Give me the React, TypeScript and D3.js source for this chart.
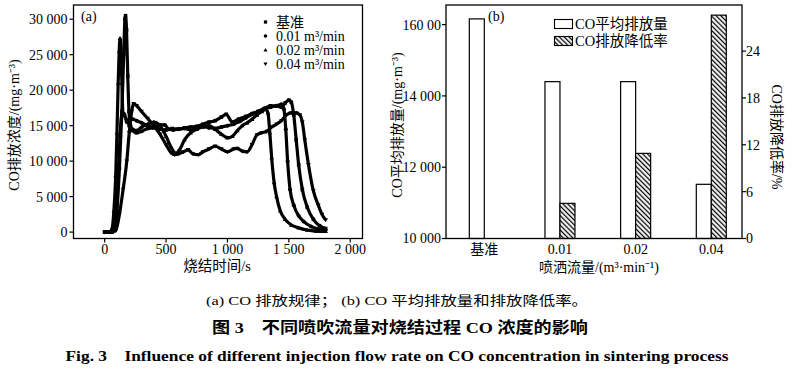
import React from "react";
import * as d3 from "d3";

// ---------- DATA ----------
const legendLabels = ["基准", "0.01 m³/min", "0.02 m³/min", "0.04 m³/min"];
const xTicksA = [0, 500, 1000, 1500, 2000];
const xTickLabelsA = ["0", "500", "1 000", "1 500", "2 000"];
const yTicksA = [0, 5000, 10000, 15000, 20000, 25000, 30000];
const yTickLabelsA = ["0", "5 000", "10 000", "15 000", "20 000", "25 000", "30 000"];

// 基准 (square)
const seriesBase: [number, number][] = [
  [0, 0], [60, 0], [80, 300], [100, 3000], [120, 9000], [140, 17000], [155, 25000], [165, 30000], [170, 30500],
  [178, 28500], [188, 22000], [198, 17000], [210, 15000], [230, 14300], [260, 14000], [300, 14200], [350, 14600],
  [400, 14700], [450, 14500], [500, 14400], [550, 14600], [600, 14500], [650, 14700], [700, 14800], [750, 14900],
  [800, 15200], [850, 15500], [900, 15700], [950, 16200], [990, 16600], [1040, 15500], [1090, 15900], [1150, 16300],
  [1200, 16700], [1250, 17000], [1300, 17400], [1350, 17800], [1400, 17800], [1440, 17600], [1470, 18200],
  [1500, 18600], [1520, 18300], [1540, 16500], [1560, 13000], [1580, 9500], [1610, 6000], [1650, 3500],
  [1700, 1800], [1750, 900], [1800, 500],
];
// 0.01 (circle)
const series001: [number, number][] = [
  [0, 0], [60, 0], [80, 500], [95, 3000], [110, 8000], [125, 13500], [140, 16700], [160, 16600], [180, 15500],
  [200, 15800], [230, 15900], [260, 15700], [300, 15400], [350, 15000], [400, 14800], [450, 15100], [490, 15100],
  [520, 14500], [560, 14400], [600, 14500], [650, 14600], [700, 14400], [750, 14600], [800, 14900], [850, 14700],
  [900, 14600], [950, 14800], [1000, 15000], [1050, 15200], [1100, 15600], [1150, 16100], [1200, 16600],
  [1250, 17000], [1300, 17400], [1350, 17600], [1400, 17800], [1440, 18000], [1460, 17300], [1475, 14500],
  [1490, 10000], [1510, 6000], [1540, 3800], [1580, 2300], [1620, 1500], [1680, 800], [1750, 400], [1800, 300],
];
// 0.02 (triangle)
const series002: [number, number][] = [
  [0, 0], [40, 0], [60, 500], [75, 3000], [90, 8000], [100, 14000], [110, 21000], [118, 25500], [125, 27300],
  [132, 26000], [140, 21000], [148, 17000], [160, 16500], [180, 15800], [200, 15000], [230, 14500], [260, 14300],
  [300, 14800], [350, 15200], [400, 15500], [450, 15000], [500, 13500], [540, 12000], [580, 11100], [610, 11600],
  [650, 13000], [700, 14000], [750, 14500], [800, 14800], [850, 15000], [900, 14500], [950, 13800], [1000, 13300],
  [1040, 13500], [1080, 14300], [1120, 15000], [1160, 15400], [1200, 15900], [1240, 16500], [1280, 17000],
  [1310, 17300], [1330, 16800], [1345, 14000], [1360, 10500], [1380, 7000], [1400, 5000], [1430, 3000],
  [1470, 1800], [1520, 1000], [1580, 600], [1650, 300], [1720, 150], [1800, 100],
];
// 0.04 (inverted triangle)
const series004: [number, number][] = [
  [0, 0], [50, 0], [90, 200], [120, 2500], [150, 6000], [180, 10000], [200, 14000], [220, 17000], [235, 18100],
  [260, 17800], [300, 17000], [350, 16000], [400, 15000], [450, 13800], [500, 12300], [540, 11200], [570, 10900],
  [600, 11000], [640, 11300], [680, 11600], [720, 11000], [760, 10900], [800, 11300], [850, 11700], [900, 12100],
  [950, 11700], [1000, 11300], [1050, 11700], [1080, 11800], [1120, 11400], [1160, 11300], [1200, 12300],
  [1240, 13700], [1280, 14000], [1320, 14200], [1360, 14800], [1400, 15200], [1440, 15700], [1480, 16500],
  [1520, 16800], [1560, 16800], [1590, 16500], [1610, 15500], [1630, 13000], [1660, 9500], [1700, 5800],
  [1740, 3800], [1770, 2500], [1800, 1700],
];

const categoriesB = ["基准", "0.01", "0.02", "0.04"];
const avgEmission = [16160, 14400, 14400, 11520];
const reductionRate = [0, 4.5, 10.9, 28.6];
const yTicksBL = [10000, 12000, 14000, 16000];
const yTickLabelsBL = ["10 000", "12 000", "14 000", "160 00"];
const yTicksBR = [0, 6, 12, 18, 24];
const legendLabelsB = ["CO平均排放量", "CO排放降低率"];

const FONT = "'Liberation Serif', 'Times New Roman', 'Noto Sans CJK SC', serif";

function Marker({ kind, x, y, s = 1 }: { kind: number; x: number; y: number; s?: number }) {
  if (kind === 0) return <rect x={x - 1.8 * s} y={y - 1.8 * s} width={3.6 * s} height={3.6 * s} fill="#000" />;
  if (kind === 1) return <circle cx={x} cy={y} r={2 * s} fill="#000" />;
  if (kind === 2)
    return <path d={`M${x},${y - 2.3 * s}L${x + 2.3 * s},${y + 1.7 * s}L${x - 2.3 * s},${y + 1.7 * s}Z`} fill="#000" />;
  return <path d={`M${x},${y + 2.3 * s}L${x + 2.3 * s},${y - 1.7 * s}L${x - 2.3 * s},${y - 1.7 * s}Z`} fill="#000" />;
}

export default function App() {
  // ----- chart (a) -----
  const aL = 73.5, aR = 362.5, aT = 5, aB = 238.5;
  const x = d3.scaleLinear().domain([-254, 2100]).range([aL, aR]);
  const y = d3.scaleLinear().domain([-900, 32000]).range([aB, aT]);
  const line = d3
    .line<[number, number]>()
    .x((d) => x(d[0]))
    .y((d) => y(d[1]))
    .curve(d3.curveMonotoneX);
  const allSeries = [seriesBase, series001, series002, series004];

  // ----- chart (b) -----
  const bL = 446, bR = 742, bT = 5, bB = 238.5;
  const xb = d3.scalePoint<string>().domain(categoriesB).range([484.3, 711.3]);
  const ybL = d3.scaleLinear().domain([10000, 16550]).range([bB, bT]);
  const ybR = d3.scaleLinear().domain([0, 29.9]).range([bB, bT]);
  const bw = 15;

  return (
    <svg
      width={798}
      height={376}
      style={{ position: "absolute", left: 0, top: 0, background: "#fff" }}
      fontFamily={FONT}
    >
      <defs>
        <pattern id="hatch" patternUnits="userSpaceOnUse" width={3.4} height={3.4} patternTransform="rotate(45)">
          <rect width={3.4} height={3.4} fill="#fff" />
          <line x1={0} y1={1.2} x2={3.4} y2={1.2} stroke="#000" strokeWidth={1.3} />
        </pattern>
        <clipPath id="clipA">
          <rect x={aL} y={aT} width={aR - aL} height={aB - aT} />
        </clipPath>
      </defs>
      <rect width={798} height={376} fill="#fff" />

      {/* ===== chart (a) ===== */}
      <g clipPath="url(#clipA)">
        {allSeries.map((s, i) => (
          <path key={i} d={line(s) || ""} fill="none" stroke="#000" strokeWidth={3.2} strokeLinejoin="round" />
        ))}
        {allSeries.map((s, i) =>
          s.map((d, j) => <Marker key={`${i}-${j}`} kind={i} x={x(d[0])} y={y(d[1])} />)
        )}
      </g>
      <rect x={aL} y={aT} width={aR - aL} height={aB - aT} fill="none" stroke="#000" strokeWidth={1.3} />
      {yTicksA.map((t, i) => (
        <g key={t}>
          <line x1={aL - 4} x2={aL} y1={y(t)} y2={y(t)} stroke="#000" strokeWidth={1.2} />
          <text x={aL - 6} y={y(t)} dy="0.35em" textAnchor="end" fontSize={14}>
            {yTickLabelsA[i]}
          </text>
        </g>
      ))}
      {xTicksA.map((t, i) => (
        <g key={t}>
          <line x1={x(t)} x2={x(t)} y1={aB} y2={aB + 4} stroke="#000" strokeWidth={1.2} />
          <text x={x(t)} y={aB + 15} textAnchor="middle" fontSize={14}>
            {xTickLabelsA[i]}
          </text>
        </g>
      ))}
      <text x={217} y={271} textAnchor="middle" fontSize={14.5}>
        烧结时间/s
      </text>
      <text transform={`translate(19,125) rotate(-90)`} textAnchor="middle" fontSize={14}>
        CO排放浓度/(mg·m⁻³)
      </text>
      <text x={81} y={21} fontSize={14}>
        (a)
      </text>
      {legendLabels.map((l, i) => (
        <g key={l}>
          <Marker kind={i} x={265.5} y={22 + i * 14} s={0.9} />
          <text x={276} y={22 + i * 14} dy="0.35em" fontSize={14}>
            {l}
          </text>
        </g>
      ))}

      {/* ===== chart (b) ===== */}
      {categoriesB.map((c, i) => (
        <g key={c}>
          <rect
            x={(xb(c) as number) - bw}
            y={ybL(avgEmission[i])}
            width={bw}
            height={bB - ybL(avgEmission[i])}
            fill="#fff"
            stroke="#000"
            strokeWidth={1.2}
          />
          {reductionRate[i] > 0 && (
            <rect
              x={xb(c) as number}
              y={ybR(reductionRate[i])}
              width={bw}
              height={bB - ybR(reductionRate[i])}
              fill="url(#hatch)"
              stroke="#000"
              strokeWidth={1.2}
            />
          )}
          <text x={xb(c) as number} y={bB + 15} textAnchor="middle" fontSize={14}>
            {c}
          </text>
        </g>
      ))}
      <rect x={bL} y={bT} width={bR - bL} height={bB - bT} fill="none" stroke="#000" strokeWidth={1.3} />
      {yTicksBL.map((t, i) => (
        <g key={t}>
          <line x1={bL - 4} x2={bL} y1={ybL(t)} y2={ybL(t)} stroke="#000" strokeWidth={1.2} />
          <text x={bL - 5} y={ybL(t)} dy="0.35em" textAnchor="end" fontSize={14}>
            {yTickLabelsBL[i]}
          </text>
        </g>
      ))}
      {yTicksBR.map((t) => (
        <g key={t}>
          <line x1={bR} x2={bR + 4} y1={ybR(t)} y2={ybR(t)} stroke="#000" strokeWidth={1.2} />
          <text x={bR + 4} y={ybR(t)} dy="0.35em" textAnchor="start" fontSize={14}>
            {t}
          </text>
        </g>
      ))}
      <text x={599} y={272} textAnchor="middle" fontSize={14}>
        喷洒流量/(m³·min⁻¹)
      </text>
      <text transform={`translate(402,125) rotate(-90)`} textAnchor="middle" fontSize={14}>
        CO平均排放量/(mg·m⁻³)
      </text>
      <text transform={`translate(772,137) rotate(90)`} textAnchor="middle" fontSize={14}>
        CO排放降低率/%
      </text>
      <text x={488} y={21} fontSize={14}>
        (b)
      </text>
      {legendLabelsB.map((l, i) => (
        <g key={l}>
          <rect
            x={554.5}
            y={19.5 + i * 17}
            width={18}
            height={9}
            fill={i === 0 ? "#fff" : "url(#hatch)"}
            stroke="#000"
            strokeWidth={1.1}
          />
          <text x={575} y={24 + i * 17} dy="0.35em" fontSize={14.5}>
            {l}
          </text>
        </g>
      ))}

      {/* ===== captions ===== */}
      <text x={397} y={305} textAnchor="middle" fontSize={13} textLength={382} lengthAdjust="spacingAndGlyphs">
        (a) CO 排放规律；  (b) CO 平均排放量和排放降低率。
      </text>
      <text x={400} y={333} textAnchor="middle" fontSize={15.5} fontWeight="bold" textLength={376} lengthAdjust="spacingAndGlyphs">
        图 3　不同喷吹流量对烧结过程 CO 浓度的影响
      </text>
      <text x={397} y={361} textAnchor="middle" fontSize={15} fontWeight="bold" textLength={663} lengthAdjust="spacingAndGlyphs">
        Fig. 3　Influence of different injection flow rate on CO concentration in sintering process
      </text>
    </svg>
  );
}
